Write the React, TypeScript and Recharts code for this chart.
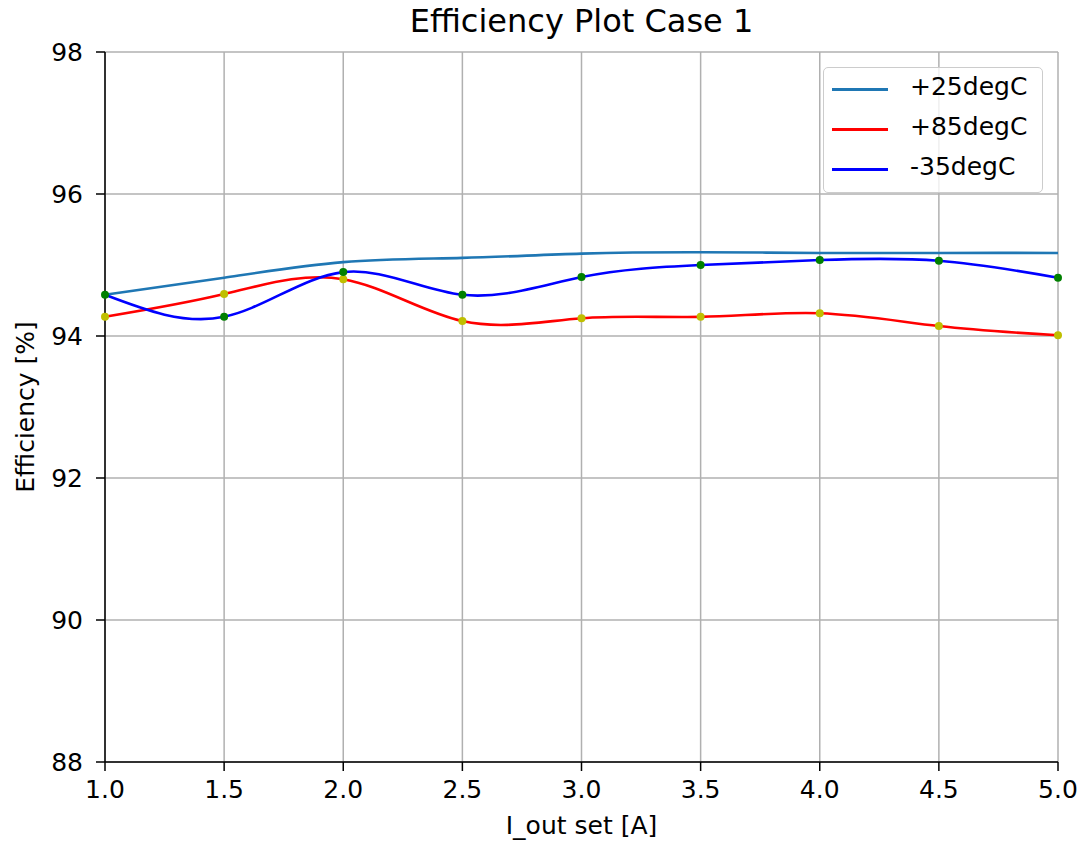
import React from 'react';
import {
  ComposedChart,
  Line,
  Scatter,
  XAxis,
  YAxis,
  CartesianGrid,
  Legend,
} from 'recharts';

// measured values (I_out set in A, efficiency in %)
const currents = [1.0, 1.5, 2.0, 2.5, 3.0, 3.5, 4.0, 4.5, 5.0];
const eff25 = [94.58, 94.82, 95.04, 95.1, 95.16, 95.18, 95.17, 95.17, 95.17];
const eff85 = [94.27, 94.59, 94.8, 94.21, 94.25, 94.27, 94.32, 94.14, 94.01];
const effM35 = [94.58, 94.27, 94.9, 94.58, 94.83, 95.0, 95.07, 95.06, 94.82];

const xTicks = [1.0, 1.5, 2.0, 2.5, 3.0, 3.5, 4.0, 4.5, 5.0];
const yTicks = [88, 90, 92, 94, 96, 98];

const data = currents.map((x, i) => ({
  x,
  t25: eff25[i],
  t85: eff85[i],
  tm35: effM35[i],
}));

const FONT = '"DejaVu Sans", sans-serif';
const tickStyle = { fontSize: 25, fill: '#000', fontFamily: FONT };

const LegendBox = (props: any) => {
  const items = (props.payload || []).filter((p: any) => p.type !== 'none');
  return (
    <div
      style={{
        width: 220,
        height: 126,
        border: '1px solid #cccccc',
        borderRadius: 5,
        background: 'rgba(255,255,255,0.8)',
        fontFamily: FONT,
        fontSize: 25,
        color: '#000',
        boxSizing: 'border-box',
        textAlign: 'left',
      }}
    >
      {items.map((it: any, i: number) => (
        <div key={i} style={{ position: 'relative', height: 40, top: 2 }}>
          <div
            style={{
              position: 'absolute',
              left: 8,
              top: 18,
              width: 56,
              height: 3,
              background: it.color,
            }}
          />
          <span style={{ position: 'absolute', left: 86, top: 2, lineHeight: '30px' }}>{it.value}</span>
        </div>
      ))}
    </div>
  );
};

const dotShape = (color: string) => (p: any) =>
  <circle cx={p.cx} cy={p.cy} r={4} fill={color} />;

export default function App() {
  return (
    <div style={{ position: 'absolute', left: 0, top: 0, width: 1082, height: 851, background: '#fff' }}>
      <div
        style={{
          position: 'absolute',
          left: 0,
          width: 1163,
          top: 2,
          textAlign: 'center',
          fontFamily: FONT,
          fontSize: 32,
          color: '#000',
        }}
      >
        Efficiency Plot Case 1
      </div>
      <div
        style={{
          position: 'absolute',
          left: 25,
          top: 407,
          transform: 'translate(-50%, -50%) rotate(-90deg)',
          whiteSpace: 'nowrap',
          fontFamily: FONT,
          fontSize: 25,
          color: '#000',
        }}
      >
        Efficiency [%]
      </div>
      <div
        style={{
          position: 'absolute',
          left: 0,
          width: 1163,
          top: 811,
          textAlign: 'center',
          fontFamily: FONT,
          fontSize: 25,
          color: '#000',
        }}
      >
        I_out set [A]
      </div>
      <ComposedChart
        width={1082}
        height={851}
        data={data}
        margin={{ top: 52, right: 24, bottom: 0, left: 0 }}
      >
        <CartesianGrid stroke="#b0b0b0" strokeWidth={1.5} />
        <XAxis
          dataKey="x"
          type="number"
          domain={[1, 5]}
          ticks={xTicks}
          tickFormatter={(v: number) => v.toFixed(1)}
          height={89}
          tickSize={9}
          tickMargin={9}
          tick={tickStyle}
          axisLine={{ stroke: '#000', strokeWidth: 1.5 }}
          tickLine={{ stroke: '#000', strokeWidth: 1.5 }}
          interval={0}
        />
        <XAxis
          xAxisId="top"
          orientation="top"
          dataKey="x"
          type="number"
          domain={[1, 5]}
          height={0}
          tick={false}
          tickLine={false}
          axisLine={{ stroke: '#000', strokeWidth: 1.5 }}
        />
        <YAxis
          type="number"
          domain={[88, 98]}
          ticks={yTicks}
          width={105}
          tickSize={9}
          tickMargin={13}
          tick={tickStyle}
          axisLine={{ stroke: '#000', strokeWidth: 1.5 }}
          tickLine={{ stroke: '#000', strokeWidth: 1.5 }}
          interval={0}
        />
        <YAxis
          yAxisId="right"
          orientation="right"
          type="number"
          domain={[88, 98]}
          width={0}
          tick={false}
          tickLine={false}
          axisLine={{ stroke: '#000', strokeWidth: 1.5 }}
        />
        <Legend
          layout="horizontal"
          verticalAlign="middle"
          align="center"
          content={<LegendBox />}
          wrapperStyle={{ position: 'absolute', left: 823, top: 67, width: 220, height: 126 }}
        />
        <Scatter
          dataKey="t85"
          legendType="none"
          shape={dotShape('#bfbf00')}
          isAnimationActive={false}
        />
        <Scatter
          dataKey="tm35"
          legendType="none"
          shape={dotShape('#008000')}
          isAnimationActive={false}
        />
        <Line
          type="natural"
          dataKey="t25"
          name="+25degC"
          stroke="#1f77b4"
          strokeWidth={2.6}
          dot={false}
          legendType="line"
          isAnimationActive={false}
        />
        <Line
          type="natural"
          dataKey="t85"
          name="+85degC"
          stroke="#ff0000"
          strokeWidth={2.6}
          dot={false}
          legendType="line"
          isAnimationActive={false}
        />
        <Line
          type="natural"
          dataKey="tm35"
          name="-35degC"
          stroke="#0000ff"
          strokeWidth={2.6}
          dot={false}
          legendType="line"
          isAnimationActive={false}
        />
      </ComposedChart>
    </div>
  );
}
